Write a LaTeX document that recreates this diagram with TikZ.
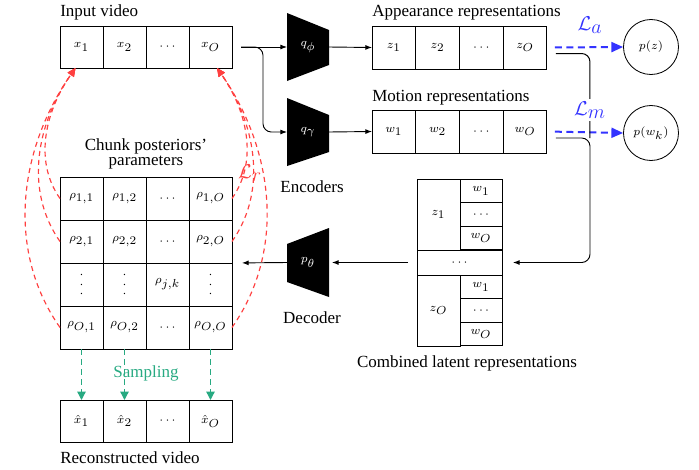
\documentclass[tikz,border=0pt]{standalone}
\usepackage[no-math]{fontspec}
\setmainfont{Liberation Serif}
\usetikzlibrary{arrows.meta,calc,backgrounds}
% subscripts set at the size of the base symbol
\newcommand{\lsub}[1]{_{\textstyle #1}}
% compact vertical dots, centred on the math axis
\newcommand{\cvdots}{\vcenter{\baselineskip5.7pt\lineskiplimit0pt\hbox{.}\hbox{.}\hbox{.}}}
\definecolor{lossred}{RGB}{255,64,64}
\definecolor{lossblue}{RGB}{51,51,255}
\definecolor{samplegreen}{RGB}{40,170,130}

\begin{document}
\begin{tikzpicture}[x=0.6pt,y=-0.6pt,
  lbl/.style={font=\fontsize{10.2}{12}\selectfont, inner sep=0},
  cell/.style={draw, line width=0.6pt, minimum width=25.8pt, minimum height=25.2pt,
               inner sep=0, outer sep=0, font=\scriptsize},
  rcell/.style={cell, minimum width=26.25pt, minimum height=25.8pt},
  gcell/.style={cell, minimum height=25.8pt},
  zcell/.style={cell, minimum width=25.8pt, minimum height=42.6pt},
  wcell/.style={cell, minimum width=25.2pt, minimum height=14.2pt},
  net/.style={inner sep=0, outer sep=0, minimum width=25.2pt, text=white, font=\scriptsize},
  prior/.style={draw, circle, line width=0.5pt, minimum size=33pt, inner sep=0, font=\scriptsize},
  arr/.style={-{Latex[length=4pt,width=3pt]}, line width=0.55pt},
  link/.style={line width=0.6pt},
  lossarr/.style={lossblue, line width=1.2pt, dash pattern=on 4.2pt off 2.7pt,
                  -{Triangle[length=7pt,width=6pt]}},
  recon/.style={lossred, line width=0.7pt, dash pattern=on 3pt off 2.4pt,
                -{Triangle[length=5pt,width=4.5pt]}},
  samp/.style={samplegreen, line width=0.8pt, dash pattern=on 3.5pt off 2.5pt,
               -{Triangle[length=5pt,width=5pt]}}
]
\useasboundingbox (0,0) rectangle (699,470);

% ---------------- input video
\node[lbl, anchor=base west] (tin) at (60,16) {Input video};
\node[cell] (x1) at (81.5,47) {$x\lsub{1}$};
\node[cell] (x2) at (124.5,47) {$x\lsub{2}$};
\node[cell] (x3) at (167.5,47) {$\cdots$};
\node[cell] (xO) at (210.5,47) {$x\lsub{O}$};

% ---------------- encoders
\node[net, minimum height=40.8pt] (qphi) at (308,47) {$q\lsub{\phi}$};
\node[net, minimum height=40.8pt] (qgam) at (308,132) {$q\lsub{\gamma}$};
\node[net, minimum height=41.4pt] (pth) at (308,262.5) {$p\lsub{\theta}$};
\begin{pgfonlayer}{background}
  \fill (qphi.north west) -- ($(qphi.north east)+(0,17)$) -- ($(qphi.south east)+(0,-16)$) -- (qphi.south west) -- cycle;
  \fill (qgam.north west) -- ($(qgam.north east)+(0,17)$) -- ($(qgam.south east)+(0,-14)$) -- (qgam.south west) -- cycle;
  \fill ($(pth.north west)+(0,16)$) -- (pth.north east) -- (pth.south east) -- ($(pth.south west)+(0,-15)$) -- cycle;
\end{pgfonlayer}
\node[lbl] (tenc) at (312,187) {Encoders};
\node[lbl] (tdec) at (312,318) {Decoder};

% ---------------- appearance and motion representations
\node[lbl, anchor=base west] (tapp) at (372,16) {Appearance representations};
\node[rcell] (z1) at (393.9,47.5) {$z\lsub{1}$};
\node[rcell] (z2) at (437.6,47.5) {$z\lsub{2}$};
\node[rcell] (z3) at (481.4,47.5) {$\cdots$};
\node[rcell] (zO) at (525.1,47.5) {$z\lsub{O}$};

\node[lbl, anchor=base west] (tmot) at (372,101) {Motion representations};
\node[rcell] (w1) at (393.9,131.5) {$w\lsub{1}$};
\node[rcell] (w2) at (437.6,131.5) {$w\lsub{2}$};
\node[rcell] (w3) at (481.4,131.5) {$\cdots$};
\node[rcell] (wO) at (525.1,131.5) {$w\lsub{O}$};

% ---------------- priors
\node[prior] (pz) at (651,47) {$p(z)$};
\node[prior] (pw) at (651,133) {$p(w\lsub{k})$};

% ---------------- combined latent representations
\node[zcell] (cz1) at (438.5,214.5) {$z\lsub{1}$};
\node[wcell] (c11) at (481,191) {$w\lsub{1}$};
\node[wcell] (c12) at (481,214.5) {$\cdots$};
\node[wcell] (c13) at (481,238) {$w\lsub{O}$};
\node[cell, minimum width=51pt, minimum height=15pt] (cmid) at (459.5,262.5) {$\cdots$};
\node[zcell] (czO) at (438.5,310.5) {$z\lsub{O}$};
\node[wcell] (c21) at (481,287) {$w\lsub{1}$};
\node[wcell] (c22) at (481,310.5) {$\cdots$};
\node[wcell] (c23) at (481,334) {$w\lsub{O}$};
\node[lbl] (tcomb) at (467,363) {Combined latent representations};

% ---------------- chunk posteriors' parameters
\node[lbl, align=center, font=\fontsize{10.2}{9}\selectfont] (tchunk) at (146,154) {Chunk posteriors'\\parameters};
\node[gcell] (r11) at (81.5,198.5) {$\rho\lsub{1{,}1}$};
\node[gcell] (r12) at (124.5,198.5) {$\rho\lsub{1{,}2}$};
\node[gcell] (r13) at (167.5,198.5) {$\cdots$};
\node[gcell] (r1O) at (210.5,198.5) {$\rho\lsub{1{,}O}$};
\node[gcell] (r21) at (81.5,241.5) {$\rho\lsub{2{,}1}$};
\node[gcell] (r22) at (124.5,241.5) {$\rho\lsub{2{,}2}$};
\node[gcell] (r23) at (167.5,241.5) {$\cdots$};
\node[gcell] (r2O) at (210.5,241.5) {$\rho\lsub{2{,}O}$};
\node[gcell] (r31) at (81.5,284.5) {$\cvdots$};
\node[gcell] (r32) at (124.5,284.5) {$\cvdots$};
\node[gcell] (r33) at (167.5,284.5) {$\rho\lsub{j{,}k}$};
\node[gcell] (r3O) at (210.5,284.5) {$\cvdots$};
\node[gcell] (r41) at (81.5,327.5) {$\rho\lsub{O{,}1}$};
\node[gcell] (r42) at (124.5,327.5) {$\rho\lsub{O{,}2}$};
\node[gcell] (r43) at (167.5,327.5) {$\cdots$};
\node[gcell] (r4O) at (210.5,327.5) {$\rho\lsub{O{,}O}$};

% ---------------- reconstructed video
\node[cell] (h1) at (81.5,421) {$\hat{x}\lsub{1}$};
\node[cell] (h2) at (124.5,421) {$\hat{x}\lsub{2}$};
\node[cell] (h3) at (167.5,421) {$\cdots$};
\node[cell] (hO) at (210.5,421) {$\hat{x}\lsub{O}$};
\node[lbl, anchor=base west] (trec) at (60,463) {Reconstructed video};

% ---------------- encoder connectors
\draw[arr, shorten <=5.4pt] (xO.east) -- (qphi.west);
\draw[arr, rounded corners=5pt, shorten <=5.4pt] (xO.east) -- ++(31,0) |- (qgam.west);
\draw[arr] (qphi.east) -- (z1.west);
\draw[arr] (qgam.east) -- (w1.west);

% ---------------- prior losses
\draw[lossarr, shorten <=4.8pt] (zO.east) -- (pz.west);
\draw[lossarr, shorten <=4.8pt] (wO.east) -- (pw.west);

% ---------------- latents to the combined block
\coordinate (rail) at (590,262.5);
\draw[link, rounded corners=5pt, shorten <=5.4pt] ($(zO.east)+(0,6)$) -| ($(wO.east)+(43,6.5)$);
\draw[arr, rounded corners=5pt, shorten <=5.4pt, shorten >=6.6pt] ($(wO.east)+(0,6.5)$) -| (rail) -- (cmid.east);
\node[lossblue, inner sep=1.5pt, fill=white, font=\large] (lm) at (590,110) {$\mathcal{L}\lsub{m}$};
\node[lossblue, inner sep=1.5pt, font=\large] (la) at (590,25) {$\mathcal{L}\lsub{a}$};

% ---------------- decoder connectors
\draw[arr, shorten <=5.4pt, shorten >=1.8pt] (cmid.west) -- (pth.east);
\draw[arr, shorten >=6pt] (pth.west) -- (r3O.north east);

% ---------------- reconstruction loss
\draw[recon] (r11.west) to[out=125,in=235,looseness=0.95] ($(x1.south)+(-6,0)$);
\draw[recon] (r21.west) to[out=125,in=235,looseness=0.95] ($(x1.south)+(-6,0)$);
\draw[recon] (r41.west) to[out=125,in=235,looseness=0.95] ($(x1.south)+(-6,0)$);
\draw[recon] (r1O.east) to[out=55,in=-55,looseness=0.95] ($(xO.south)+(6.5,0)$);
\draw[recon] (r2O.east) to[out=55,in=-55,looseness=0.95] ($(xO.south)+(6.5,0)$);
\draw[recon] (r4O.east) to[out=55,in=-55,looseness=0.95] ($(xO.south)+(6.5,0)$);
\node[lossred, inner sep=0, font=\large] (lr) at (250,173) {$\mathcal{L}\lsub{r}$};

% ---------------- sampling
\draw[samp] (r41.south) -- (h1.north);
\draw[samp] (r42.south) -- (h2.north);
\draw[samp] (r4O.south) -- (hO.north);
\node[lbl, text=samplegreen] (tsamp) at (146,373) {Sampling};

\end{tikzpicture}
\end{document}
